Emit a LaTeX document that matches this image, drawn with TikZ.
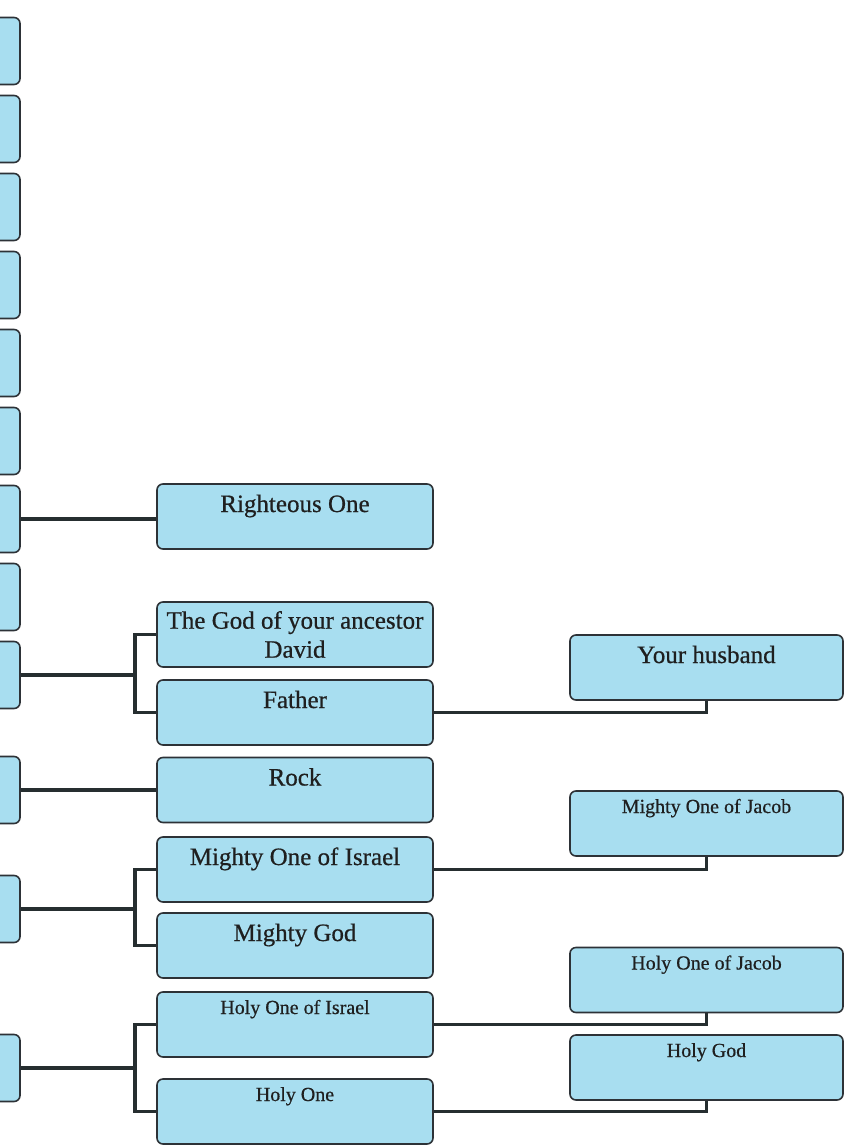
\documentclass[tikz,border=0pt]{standalone}
\usepackage{fontspec}
\setmainfont{Liberation Serif}[FakeBold=0.6]
\usepackage{tikz}
\definecolor{boxblue}{RGB}{168,222,240}
\definecolor{boxedge}{RGB}{45,50,55}
\definecolor{linkgray}{RGB}{38,46,48}
\tikzset{
  namebox/.style   = {draw=boxedge,line width=1.6pt,fill=boxblue,rounded corners=6pt,
                      minimum height=65pt,inner sep=0pt,align=center,text=black!88},
  midbox/.style    = {namebox,minimum width=276pt},
  rightbox/.style  = {namebox,minimum width=273pt},
  stubbox/.style   = {namebox,minimum width=120pt,minimum height=67pt},
  bigtext/.style   = {font=\fontsize{25}{29}\selectfont,text height=28pt,text depth=37pt},
  smalltext/.style = {font=\fontsize{20}{24}\selectfont,text height=22pt,text depth=43pt},
  link/.style      = {linkgray,line width=3.6pt}
}

\begin{document}
\begin{tikzpicture}[x=1pt,y=-1pt]
  \clip (0,0) rectangle (845,1145);
  \fill[white] (0,0) rectangle (845,1145);
  % the left column runs off the page -- only the right ends show
  \foreach \k in {1,...,9}
    \node[stubbox] (L\k) at (-40,{51+78*(\k-1)}) {};
  \node[stubbox] (L10) at (-40,790)  {};
  \node[stubbox] (L11) at (-40,909)  {};
  \node[stubbox] (L12) at (-40,1068) {};

  \node[midbox,bigtext]   (righteous) at (295,516.5)  {Righteous One};
  \node[midbox,font=\fontsize{25}{29}\selectfont]
                          (ancestor)  at (295,634.5)  {The God of your ancestor\\David};
  \node[midbox,bigtext]   (father)    at (295,712.5)  {Father};
  \node[midbox,bigtext]   (rock)      at (295,790)    {Rock};
  \node[midbox,bigtext]   (mightyisr) at (295,869.5)  {Mighty One of Israel};
  \node[midbox,bigtext]   (mightygod) at (295,945.5)  {Mighty God};
  \node[midbox,smalltext] (holyisr)   at (295,1024.5) {Holy One of Israel};
  \node[midbox,smalltext] (holyone)   at (295,1111.5) {Holy One};

  \node[rightbox,bigtext]   (husband)   at (706.5,667.5) {Your husband};
  \node[rightbox,smalltext] (mightyjac) at (706.5,823.5) {Mighty One of Jacob};
  \node[rightbox,smalltext] (holyjac)   at (706.5,980)   {Holy One of Jacob};
  \node[rightbox,smalltext] (holygod)   at (706.5,1067.5){Holy God};

  % single links
  \draw[link] (L7.east)  -- (L7.east -| righteous.west);
  \draw[link] (L10.east) -- (rock.west);
  % brackets off the left column
  \coordinate (bar) at (135,0);
  \draw[link] (L9.east) -- (L9.east -| bar) |- (ancestor.west);
  \draw[link] (L9.east -| bar) |- (father.west);
  \draw[link] (L11.east) -- (L11.east -| bar) |- (mightyisr.west);
  \draw[link] (L11.east -| bar) |- (mightygod.west);
  \draw[link] (L12.east) -- (L12.east -| bar) |- (holyisr.west);
  \draw[link] (L12.east -| bar) |- (holyone.west);
  % elbows up into the right column
  \draw[link] (father.east)    -| (husband.south);
  \draw[link] (mightyisr.east) -| (mightyjac.south);
  \draw[link] (holyisr.east)   -| (holyjac.south);
  \draw[link] (holyone.east)   -| (holygod.south);
\end{tikzpicture}
\end{document}
